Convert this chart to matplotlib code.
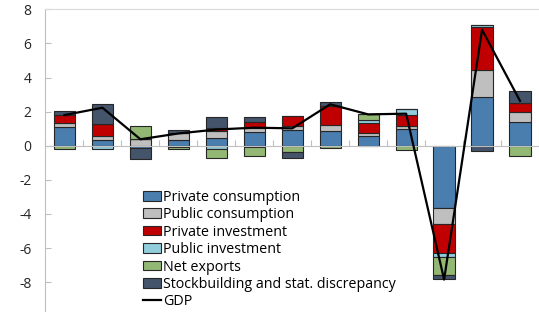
import numpy as np
import matplotlib.pyplot as plt

# contributions to GDP growth (pp), 13 periods
private_cons = [1.08, 0.33, -0.15, 0.32, 0.47, 0.79, 0.92, 0.88, 0.55, 0.96, -3.67, 2.86, 1.39]
public_cons = [0.23, 0.25, 0.42, 0.42, 0.41, 0.23, 0.25, 0.33, 0.21, 0.21, -0.92, 1.57, 0.59]
private_inv = [0.47, 0.69, 0.0, -0.07, 0.14, 0.35, 0.57, 1.11, 0.57, 0.63, -1.72, 2.54, 0.53]
public_inv = [0.0, -0.2, 0.0, 0.0, -0.2, -0.1, 0.0, 0.0, 0.16, 0.35, -0.23, 0.14, 0.0]
net_exports = [-0.2, 0.0, 0.76, -0.13, -0.5, -0.5, -0.39, -0.15, 0.35, -0.25, -1.04, 0.0, -0.59]
stockbuilding = [0.23, 1.16, -0.65, 0.18, 0.68, 0.29, -0.35, 0.25, 0.0, 0.0, -0.25, -0.33, 0.72]
gdp = [1.8, 2.23, 0.38, 0.72, 0.95, 1.06, 1.02, 2.43, 1.84, 1.88, -7.85, 6.8, 2.63]

labels = ['Private consumption', 'Public consumption', 'Private investment',
          'Public investment', 'Net exports', 'Stockbuilding and stat. discrepancy']
colors = ['#4a7eaf', '#bfbfbf', '#c00000', '#92cddc', '#93b874', '#44546a']
series = [private_cons, public_cons, private_inv, public_inv, net_exports, stockbuilding]

plt.rcParams['font.family'] = ['Open Sans', 'DejaVu Sans']
plt.rcParams['axes.unicode_minus'] = False

fig = plt.figure(figsize=(5.39, 3.12), dpi=100)
ax = fig.add_axes([0.0844, -0.0135, 0.9156, 0.9835])

x = np.arange(len(gdp))
pos_bottom = np.zeros(len(gdp))
neg_bottom = np.zeros(len(gdp))
for vals, lab, col in zip(series, labels, colors):
    v = np.array(vals)
    bottom = np.where(v >= 0, pos_bottom, neg_bottom)
    ax.bar(x, v, 0.56, bottom=bottom, color=col, edgecolor='#262626',
           linewidth=0.8, label=lab, zorder=2)
    pos_bottom += np.where(v > 0, v, 0)
    neg_bottom += np.where(v < 0, v, 0)

ax.plot(x, gdp, color='black', lw=1.6, label='GDP', zorder=3)

ax.set_xlim(-0.5, len(gdp) - 0.5)
ax.set_ylim(-10, 8)
ax.set_yticks(np.arange(-10, 9, 2))
ax.set_xticks(np.arange(-0.5, len(gdp), 1))
ax.set_xticklabels([])

ax.spines['bottom'].set_position(('data', 0))
ax.spines['bottom'].set_color('#bfbfbf')
ax.spines['left'].set_color('#bfbfbf')
ax.spines['top'].set_color('#d9d9d9')
ax.spines['right'].set_visible(False)
ax.tick_params(axis='x', direction='in', length=4, color='#bfbfbf')
ax.tick_params(axis='y', direction='in', length=4, color='#bfbfbf',
               labelsize=10, labelcolor='#262626', pad=10)

# GDP line goes last in the legend
handles, labs = ax.get_legend_handles_labels()
handles = handles[1:] + handles[:1]
labs = labs[1:] + labs[:1]
ax.legend(handles, labs, loc='upper left', bbox_to_anchor=(0.198, 0.412),
          frameon=False, fontsize=10.3, borderpad=0, borderaxespad=0,
          handlelength=1.25, handleheight=0.65, handletextpad=0.12,
          labelspacing=0.17)

fig.savefig('out.png', dpi=100)
